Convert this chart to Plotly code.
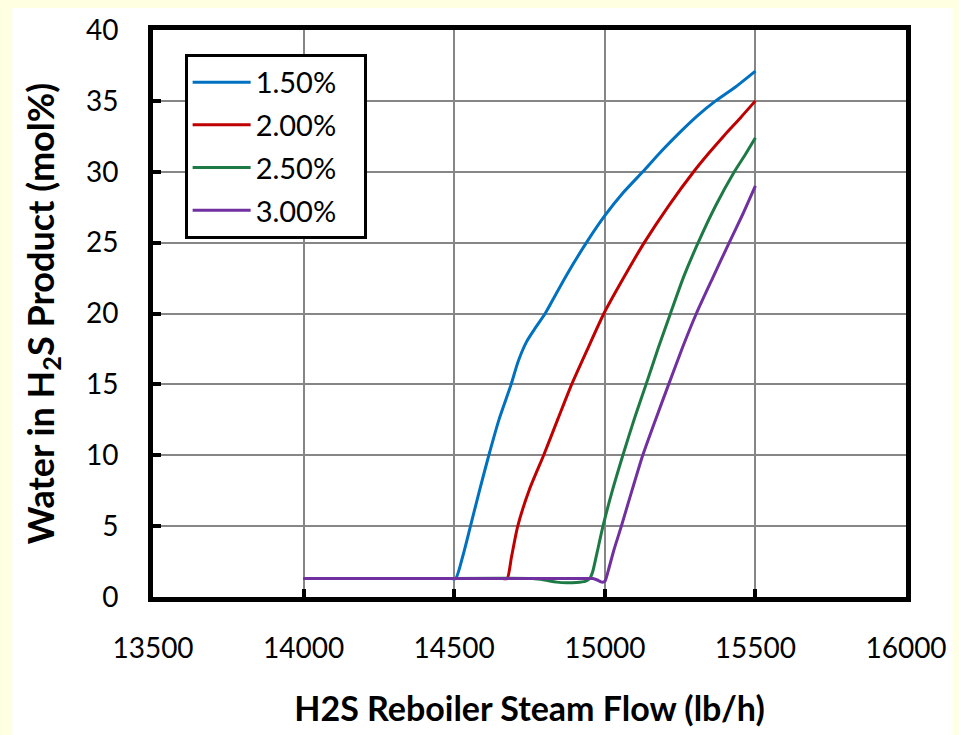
import plotly.graph_objects as go

# Reboiler steam flow (lb/h) and water content in the H2S product (mol%)
blue_x = [14000, 14250, 14490, 14505, 14530, 14554, 14585, 14615, 14650, 14689, 14712, 14740, 14770, 14802, 14870, 14939, 15000, 15060, 15126, 15190, 15250, 15310, 15368, 15435, 15500]
blue_y = [1.3, 1.3, 1.3, 1.3, 3.0, 5.0, 7.6, 10.0, 12.6, 15.0, 16.6, 18.0, 19.0, 20.0, 22.6, 25.0, 26.9, 28.5, 30.0, 31.5, 32.8, 34.0, 35.0, 36.0, 37.1]

red_x = [14000, 14400, 14660, 14676, 14690, 14711, 14750, 14797, 14845, 14890, 14945, 14997, 15062, 15131, 15212, 15295, 15345, 15398, 15450, 15500]
red_y = [1.3, 1.3, 1.3, 1.3, 2.8, 5.0, 7.6, 10.0, 12.6, 15.0, 17.6, 20.0, 22.5, 25.0, 27.6, 30.0, 31.3, 32.6, 33.8, 35.0]

green_x = [14000, 14400, 14760, 14800, 14840, 14873, 14905, 14935, 14950, 14960, 14975, 14994, 15025, 15060, 15100, 15137, 15178, 15218, 15262, 15310, 15368, 15430, 15466, 15500]
green_y = [1.3, 1.3, 1.3, 1.2, 1.05, 1.0, 1.02, 1.1, 1.3, 1.8, 3.2, 5.0, 7.5, 10.0, 12.7, 15.0, 17.6, 20.0, 22.6, 25.0, 27.6, 30.0, 31.2, 32.4]

purple_x = [14000, 14400, 14945, 14960, 14975, 14990, 15000, 15012, 15030, 15055, 15090, 15126, 15170, 15212, 15258, 15304, 15358, 15413, 15458, 15500]
purple_y = [1.3, 1.3, 1.3, 1.3, 1.2, 1.05, 1.1, 1.9, 3.3, 5.0, 7.5, 10.0, 12.6, 15.0, 17.6, 20.0, 22.5, 25.0, 27.0, 29.0]

series_names = ["1.50%", "2.00%", "2.50%", "3.00%"]
series_colors = ["#0070C0", "#C00000", "#1E7A45", "#7030A0"]
series_x = [blue_x, red_x, green_x, purple_x]
series_y = [blue_y, red_y, green_y, purple_y]

x_ticks = [13500, 14000, 14500, 15000, 15500, 16000]
y_ticks = [0, 5, 10, 15, 20, 25, 30, 35, 40]

FONT = "Lato"
PAD = "\u00a0\u00a0\u00a0"  # right padding inside the legend box

fig = go.Figure()
for name, color, xs, ys in zip(series_names, series_colors, series_x, series_y):
    fig.add_trace(go.Scatter(
        x=xs, y=ys, mode="lines", name=name + PAD, legendgroup=name,
        line=dict(color=color, width=3, shape="spline", smoothing=0.6),
    ))

# white page inside a pale yellow frame
fig.add_shape(type="rect", xref="paper", yref="paper",
              x0=(11 - 153) / 759, x1=(959 - 153) / 759,
              y0=(598 - 740) / 570, y1=(598 - 6) / 570,
              fillcolor="white", line=dict(width=0), layer="below")

axis_common = dict(
    showline=True, linecolor="black", linewidth=5, mirror=True,
    showgrid=True, gridcolor="#868686", gridwidth=1.5,
    ticks="inside", ticklen=8, tickwidth=4, tickcolor="black",
    tickfont=dict(family=FONT, size=28, color="black"),
    zeroline=False,
)

fig.update_layout(
    width=959, height=735,
    margin=dict(l=153, r=47, t=28, b=137),
    paper_bgcolor="#FFFFE1",
    plot_bgcolor="white",
    showlegend=True,
    legend=dict(
        x=0.042, y=0.958, xanchor="left", yanchor="top",
        bgcolor="white", bordercolor="black", borderwidth=3,
        font=dict(family=FONT, size=29, color="black"),
        tracegroupgap=2, itemwidth=58,
    ),
    xaxis=dict(
        range=[13500, 16000], tickvals=x_ticks, ticktext=[str(v) for v in x_ticks],
        ticklabelstandoff=22,
        title=dict(text="<b>H2S Reboiler Steam Flow (lb/h)</b>", standoff=36,
                   font=dict(family=FONT, size=34, color="black")),
        **axis_common,
    ),
    yaxis=dict(
        range=[0, 40], tickvals=y_ticks, ticktext=[str(v) for v in y_ticks],
        ticklabelstandoff=24,
        title=dict(text="<b>Water in H<sub>2</sub>S Product (mol%)</b>", standoff=22,
                   font=dict(family=FONT, size=36, color="black")),
        **axis_common,
    ),
)

fig.write_html("out.html")
